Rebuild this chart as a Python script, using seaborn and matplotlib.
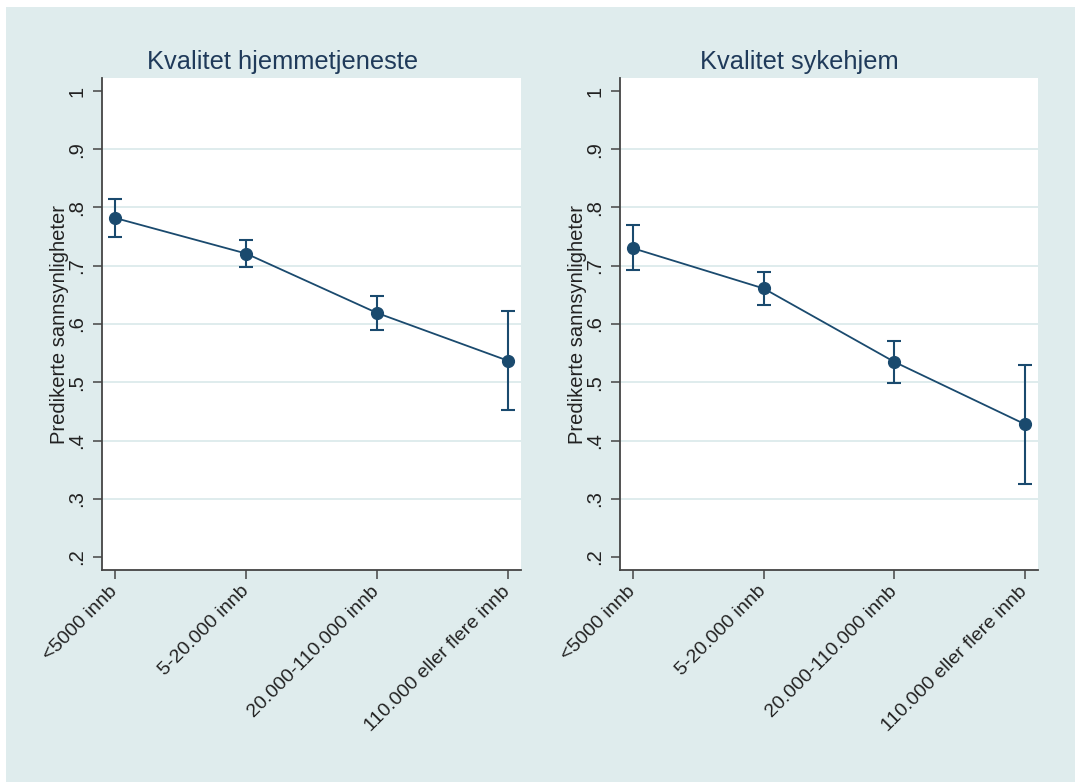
import numpy as np
import pandas as pd
import matplotlib
matplotlib.use("Agg")
import matplotlib.pyplot as plt
from matplotlib.patches import Rectangle
import seaborn as sns

# Kommunestørrelse (kategorier på x-aksen)
kategorier = ["<5000 innb", "5-20.000 innb", "20.000-110.000 innb", "110.000 eller flere innb"]

# Predikerte sannsynligheter med 95 % konfidensintervall
hjem_pred = [0.782, 0.721, 0.619, 0.537]
hjem_lo = [0.749, 0.698, 0.590, 0.452]
hjem_hi = [0.815, 0.745, 0.648, 0.622]

syke_pred = [0.730, 0.661, 0.535, 0.428]
syke_lo = [0.692, 0.633, 0.499, 0.326]
syke_hi = [0.770, 0.690, 0.570, 0.529]

titler = ["Kvalitet hjemmetjeneste", "Kvalitet sykehjem"]
y_ticks = [1.0, 0.9, 0.8, 0.7, 0.6, 0.5, 0.4, 0.3, 0.2]
y_ticklabels = ["1", ".9", ".8", ".7", ".6", ".5", ".4", ".3", ".2"]

navy = "#1a4a6e"
bg = "#dfeced"
title_col = "#1f3a5a"
axis_col = "#444444"
text_col = "#222222"

sns.set_theme(style="white")
plt.rcParams["font.family"] = ["Liberation Sans", "DejaVu Sans"]

fig = plt.figure(figsize=(10.75, 7.82), dpi=100)
fig.patch.set_facecolor("white")
fig.patches.append(Rectangle((6 / 1075, 0), 1, 1 - 7 / 782, transform=fig.transFigure,
                             facecolor=bg, edgecolor="none", zorder=-10))

W, H = 1075, 782
panels = [
    (titler[0], hjem_pred, hjem_lo, hjem_hi, 102, 521),
    (titler[1], syke_pred, syke_lo, syke_hi, 620, 1038),
]
top_px, bot_px = 78, 570

for tittel, pred, lo, hi, x0, x1 in panels:
    ax = fig.add_axes([x0 / W, 1 - bot_px / H, (x1 - x0) / W, (bot_px - top_px) / H])
    ax.set_facecolor("white")
    df = pd.DataFrame({"kategori": kategorier, "pred": pred, "lo": lo, "hi": hi})

    # horisontale rutenettlinjer (ikke ved aksens ender)
    for yv in y_ticks[1:-1]:
        ax.axhline(yv, color=bg, lw=1.4, zorder=0)

    pos = np.arange(len(df))
    ax.errorbar(pos, df["pred"],
                yerr=[df["pred"] - df["lo"], df["hi"] - df["pred"]],
                fmt="none", ecolor=navy, elinewidth=1.5, capsize=5, capthick=1.5, zorder=2)
    sns.pointplot(data=df, x="kategori", y="pred", order=kategorier, errorbar=None,
                  color=navy, markers="o", linestyles="-", markersize=8.5,
                  linewidth=1.3, ax=ax, zorder=3)

    ax.set_xlim(-0.1, 3.1)
    ax.set_ylim(0.1777, 1.0223)
    ax.set_yticks(y_ticks)
    ax.set_yticklabels(y_ticklabels, rotation=90, va="center", fontsize=14.5, color=text_col)
    ax.set_xticks(pos)
    ax.set_xticklabels(kategorier, rotation=45, ha="right", va="center",
                       rotation_mode="anchor", fontsize=14, color=text_col)
    ax.tick_params(axis="both", direction="out", length=6.5, width=1.1, color=axis_col,
                   left=True, bottom=True)
    ax.tick_params(axis="y", pad=5)
    ax.tick_params(axis="x", pad=7)

    for side in ["top", "right"]:
        ax.spines[side].set_visible(False)
    for side in ["left", "bottom"]:
        ax.spines[side].set_visible(True)
        ax.spines[side].set_color(axis_col)
        ax.spines[side].set_linewidth(1.3)

    ax.set_xlabel("")
    ax.set_ylabel("Predikerte sannsynligheter", fontsize=14.5, color=text_col)
    ax.yaxis.label.set_va("center")
    ax.yaxis.set_label_coords(-0.102, 0.5)

    ax.set_title(tittel, fontsize=18.3, color=title_col, x=0.43, y=1.018, pad=0)

fig.savefig("out.png", dpi=100, facecolor=fig.get_facecolor())
